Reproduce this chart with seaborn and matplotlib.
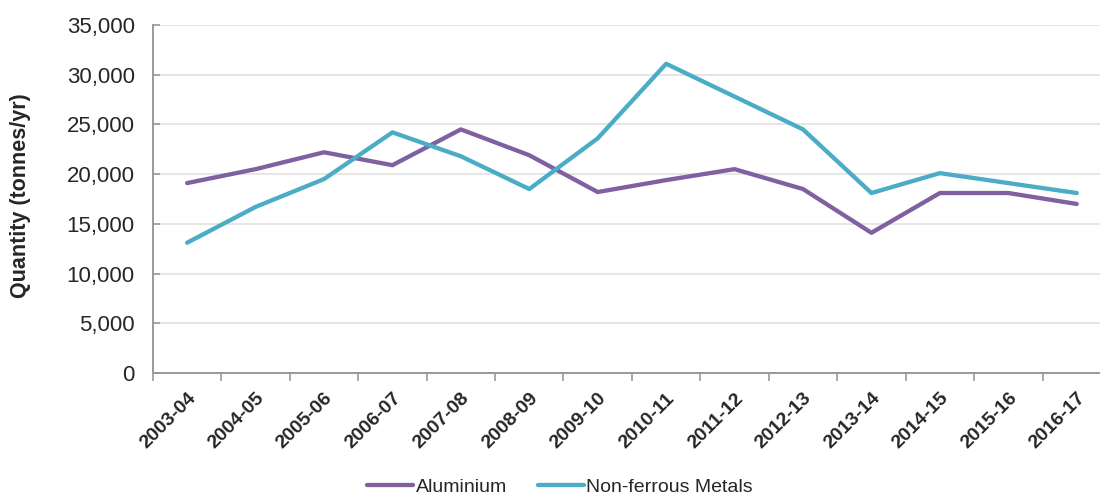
import pandas as pd
import matplotlib.pyplot as plt
import seaborn as sns
from matplotlib.ticker import FuncFormatter, FixedLocator

# Dados
years = ["2003-04", "2004-05", "2005-06", "2006-07", "2007-08", "2008-09", "2009-10",
         "2010-11", "2011-12", "2012-13", "2013-14", "2014-15", "2015-16", "2016-17"]
aluminium = [19100, 20500, 22200, 20900, 24500, 21900, 18200,
             19400, 20500, 18500, 14100, 18100, 18100, 17000]
non_ferrous = [13100, 16700, 19500, 24200, 21800, 18500, 23600,
               31100, 27800, 24500, 18100, 20100, 19100, 18100]
series_names = ["Aluminium", "Non-ferrous Metals"]
colors = ["#7f61a1", "#4bacc6"]

df = pd.DataFrame({
    "Year": years * 2,
    "Quantity": aluminium + non_ferrous,
    "Series": [series_names[0]] * len(years) + [series_names[1]] * len(years),
})
df["pos"] = df["Year"].map({y: i for i, y in enumerate(years)})

sns.set_style("white")
plt.rcParams["font.family"] = ["Liberation Sans", "DejaVu Sans"]

fig = plt.figure(figsize=(11, 4.95), dpi=100)
ax = fig.add_axes([0.139, 0.2465, 0.861, 0.703])

sns.lineplot(data=df, x="pos", y="Quantity", hue="Series", palette=colors,
             linewidth=3.1, ax=ax, legend=True)

ax.set_xlim(-0.5, 13.34)
ax.set_ylim(0, 35000)
ax.set_yticks(range(0, 35001, 5000))
ax.yaxis.set_major_formatter(FuncFormatter(lambda v, p: f"{int(v):,}"))
ax.grid(axis="y", color="#e6e6e6", linewidth=1.4)
ax.set_axisbelow(True)

# rótulos no centro, marcas nas divisões das categorias
ax.set_xticks(range(len(years)))
ax.set_xticklabels(years, rotation=45, ha="right", rotation_mode="anchor",
                   fontweight="bold", fontsize=14)
ax.xaxis.set_minor_locator(FixedLocator([i - 0.5 for i in range(len(years) + 1)]))
ax.tick_params(axis="x", which="major", bottom=False, length=0, pad=12)
ax.tick_params(axis="x", which="minor", bottom=True, direction="out",
               length=6, color="#999999", width=1.2)
ax.tick_params(axis="y", left=True, direction="in", length=5, color="#999999",
               width=1.2, labelsize=16, pad=13)

for s in ["top", "right"]:
    ax.spines[s].set_visible(False)
for s in ["left", "bottom"]:
    ax.spines[s].set_color("#999999")
    ax.spines[s].set_linewidth(1.4)

ax.set_xlabel("")
ax.set_ylabel("Quantity (tonnes/yr)", fontweight="bold", fontsize=15.5)
ax.yaxis.set_label_coords(-0.129, 0.51)

handles, labels = ax.get_legend_handles_labels()
ax.get_legend().remove()
fig.legend(handles, labels, loc="center", bbox_to_anchor=(560 / 1100, 0.016),
           ncol=2, frameon=False, fontsize=14, handlelength=2.35, handletextpad=0.15,
           columnspacing=1.6)

fig.savefig("out.png", dpi=100)
